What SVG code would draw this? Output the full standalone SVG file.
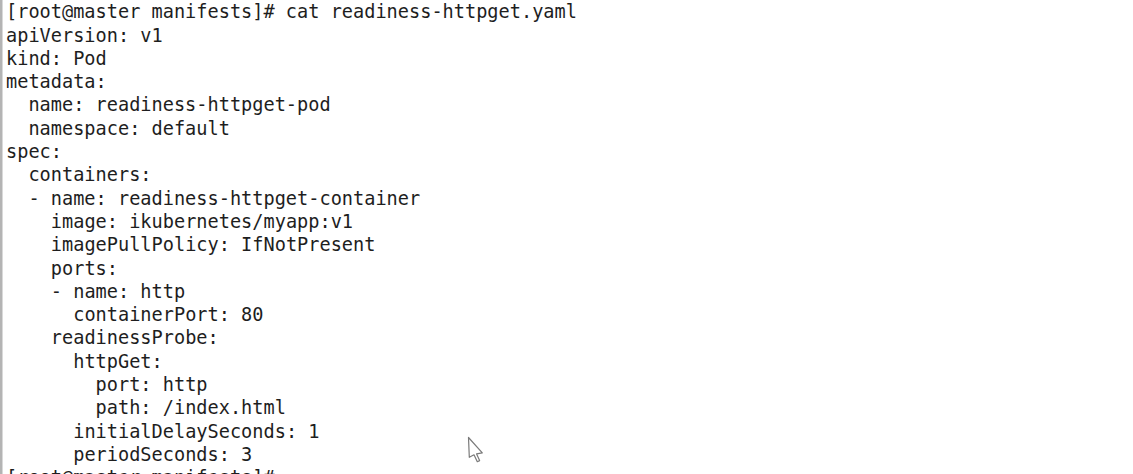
<svg xmlns="http://www.w3.org/2000/svg" width="1133" height="474" viewBox="0 0 1133 474">
<style>
  .t { font-family: "DejaVu Sans Mono", "Liberation Mono", monospace; font-size: 18.6px; fill: #1e1e1e; }
</style>
<rect x="0" y="0" width="1133" height="474" fill="#ffffff"/>
<rect x="0" y="0" width="2.5" height="474" fill="#b4b4b4"/>
<g id="terminal-text">
  <text class="t" x="6" y="18.2">[root@master manifests]# cat readiness-httpget.yaml</text>
  <text class="t" x="6" y="41.5">apiVersion: v1</text>
  <text class="t" x="6" y="64.8">kind: Pod</text>
  <text class="t" x="6" y="88.1">metadata:</text>
  <text class="t" x="28.4" y="111.4">name: readiness-httpget-pod</text>
  <text class="t" x="28.4" y="134.7">namespace: default</text>
  <text class="t" x="6" y="158">spec:</text>
  <text class="t" x="28.4" y="181.3">containers:</text>
  <text class="t" x="28.4" y="204.6">- name: readiness-httpget-container</text>
  <text class="t" x="50.8" y="227.9">image: ikubernetes/myapp:v1</text>
  <text class="t" x="50.8" y="251.2">imagePullPolicy: IfNotPresent</text>
  <text class="t" x="50.8" y="274.5">ports:</text>
  <text class="t" x="50.8" y="297.8">- name: http</text>
  <text class="t" x="73.2" y="321.1">containerPort: 80</text>
  <text class="t" x="50.8" y="344.4">readinessProbe:</text>
  <text class="t" x="73.2" y="367.7">httpGet:</text>
  <text class="t" x="95.6" y="391">port: http</text>
  <text class="t" x="95.6" y="414.3">path: /index.html</text>
  <text class="t" x="73.2" y="437.6">initialDelaySeconds: 1</text>
  <text class="t" x="73.2" y="460.9">periodSeconds: 3</text>
  <text class="t" x="6" y="484.2">[root@master manifests]#</text>
</g>
<g id="cursor">
  <path d="M468.5,437.5 L469.3,457.3 L474,454.8 L477.3,461.7 L479.6,460.6 L476.6,453.9 L482.3,452.9 Z" fill="#ffffff" stroke="#7a7a7a" stroke-width="1.2" stroke-linejoin="round"/>
</g>
</svg>
